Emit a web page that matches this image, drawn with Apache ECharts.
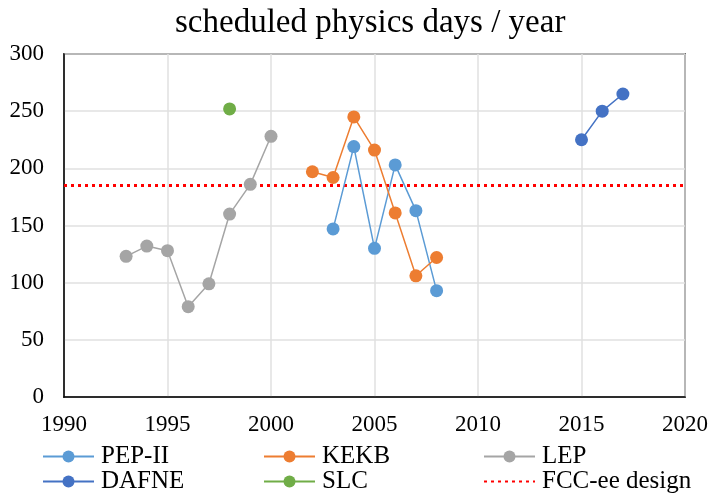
<!DOCTYPE html>
<html>
<head>
<meta charset="utf-8">
<script src="https://cdn.jsdelivr.net/npm/echarts@6/dist/echarts.min.js"></script>
<style>
  html, body { margin: 0; padding: 0; background: #fff; }
  #chart { width: 711px; height: 493px; }
</style>
</head>
<body>
<div id="chart"></div>
<script>
// Scheduled physics days per year at past colliders, versus the FCC-ee design value
const pepYears = [2003, 2004, 2005, 2006, 2007, 2008];
const pepDays = [147, 219, 130, 203, 163, 93];

const kekbYears = [2002, 2003, 2004, 2005, 2006, 2007, 2008];
const kekbDays = [197, 192, 245, 216, 161, 106, 122];

const lepYears = [1993, 1994, 1995, 1996, 1997, 1998, 1999, 2000];
const lepDays = [123, 132, 128, 79, 99, 160, 186, 228];

const dafneYears = [2015, 2016, 2017];
const dafneDays = [225, 250, 265];

const slcYears = [1998];
const slcDays = [252];

const fccYears = [1990, 2020];
const fccDays = [185, 185];

const serif = '"Liberation Serif", "DejaVu Serif", serif';

function pairs(xs, ys) {
  return xs.map((x, i) => [x, ys[i]]);
}

function markerSeries(name, xs, ys, color) {
  return {
    name: name,
    type: 'line',
    data: pairs(xs, ys),
    symbol: 'circle',
    symbolSize: 13,
    itemStyle: { color: color },
    lineStyle: { color: color, width: 1.5 },
    z: 3
  };
}

// three columns, two rows of legend entries
const legendPos = [
  { name: 'PEP-II', left: 42, top: 444 },
  { name: 'KEKB', left: 263, top: 444 },
  { name: 'LEP', left: 483, top: 444 },
  { name: 'DAFNE', left: 42, top: 469 },
  { name: 'SLC', left: 263, top: 469 },
  { name: 'FCC-ee design', left: 483, top: 469, hideSymbol: true }
];

const chart = echarts.init(document.getElementById('chart'));
chart.setOption({
  animation: false,
  backgroundColor: '#fff',
  title: {
    text: 'scheduled physics days / year',
    left: 170,
    top: 2,
    textStyle: { fontFamily: serif, fontSize: 33, fontWeight: 'normal', color: '#000' }
  },
  legend: legendPos.map(p => {
    const lg = {
      data: [p.name],
      left: p.left,
      top: p.top,
      itemWidth: 51,
      itemHeight: 15,
      itemGap: 4,
      padding: 0,
      textStyle: { fontFamily: serif, fontSize: 25, color: '#000', padding: [0, 0, 0, 2] }
    };
    if (p.hideSymbol) lg.itemStyle = { opacity: 0 };
    return lg;
  }),
  grid: {
    left: 64, right: 24, top: 54, bottom: 96,
    show: true, borderColor: '#000', borderWidth: 1.5
  },
  xAxis: {
    type: 'value',
    min: 1990, max: 2020, interval: 5,
    axisLine: { show: true, lineStyle: { color: '#000', width: 1.5 } },
    axisTick: { show: false },
    splitLine: { show: true, lineStyle: { color: '#e0e0e0', width: 1.5 } },
    axisLabel: {
      fontFamily: serif, fontSize: 23, color: '#000', margin: 16,
      formatter: v => String(v)
    }
  },
  yAxis: {
    type: 'value',
    min: 0, max: 300, interval: 50,
    axisLine: { show: true, lineStyle: { color: '#000', width: 1.5 } },
    axisTick: { show: false },
    splitLine: { show: true, lineStyle: { color: '#e0e0e0', width: 1.5 } },
    axisLabel: { fontFamily: serif, fontSize: 23, color: '#000', margin: 20 }
  },
  series: [
    markerSeries('PEP-II', pepYears, pepDays, '#5B9BD5'),
    markerSeries('KEKB', kekbYears, kekbDays, '#ED7D31'),
    markerSeries('LEP', lepYears, lepDays, '#A5A5A5'),
    markerSeries('DAFNE', dafneYears, dafneDays, '#4472C4'),
    markerSeries('SLC', slcYears, slcDays, '#70AD47'),
    {
      name: 'FCC-ee design',
      type: 'line',
      data: pairs(fccYears, fccDays),
      symbol: 'none',
      itemStyle: { color: '#FF0000' },
      lineStyle: { color: '#FF0000', width: 3, type: [3, 4] },
      z: 2
    }
  ]
});
</script>
</body>
</html>
